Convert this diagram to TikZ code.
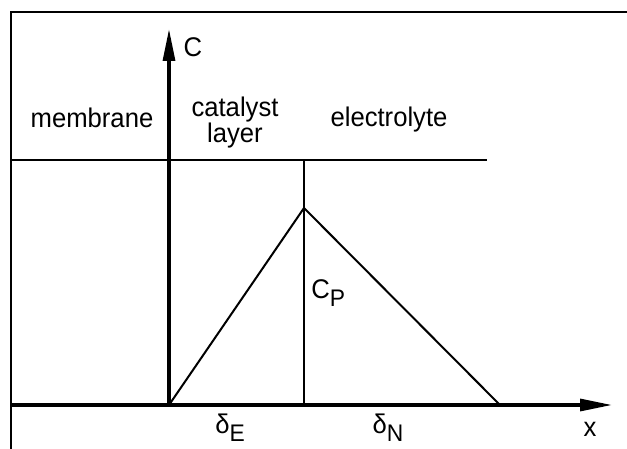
\documentclass[tikz,border=0pt]{standalone}
\usepackage{fontspec}
\setmainfont{Liberation Sans}
\usetikzlibrary{arrows.meta}
\newcommand{\lowsub}[1]{\raisebox{-4pt}{\fontsize{12}{12}\selectfont #1}}
\tikzset{
  lbl/.style={font=\fontsize{13.5}{13}\selectfont, inner sep=1pt, xscale=0.95, align=center},
  frame/.style={line width=1.1pt},
  axis/.style={line width=1.6pt, -{Triangle[length=16pt, width=6pt]}},
  profile/.style={line width=1pt},
  thin/.style={line width=0.7pt}
}

\begin{document}
\begin{tikzpicture}[x=0.5pt, y=-0.5pt]
  \useasboundingbox (0,0) rectangle (627,449);
  % frame and region border
  \coordinate (fbl) at (11,449);
  \coordinate (ftl) at (11,12);
  \coordinate (ftr) at (627,12);
  \draw[frame] (fbl) -- (ftl) -- (ftr);
  \coordinate (bl) at (11,160);
  \coordinate (br) at (487,160);
  \draw[frame] (bl) -- (br);
  % axes
  \coordinate (O) at (169,405);
  \coordinate (xs) at (11,405);
  \coordinate (xe) at (612,405);
  \coordinate (ye) at (169,29);
  \draw[axis] (xs) -- (xe);
  \draw[axis] (O) -- (ye);
  % concentration profile
  \coordinate (peak) at (304,208);
  \coordinate (pt) at (304,160);
  \coordinate (pb) at (304,405);
  \coordinate (end) at (500,405);
  \draw[thin] (pt) -- (pb);
  \draw[profile] (O) -- (peak) -- (end);
  % labels
  \node[lbl, anchor=base] (cax) at (193,57) {C};
  \node[lbl, anchor=base] (mem) at (92,128) {membrane};
  \node[lbl] (cat) at (235,123) {catalyst\\layer};
  \node[lbl, anchor=base] (ele) at (389,127) {electrolyte};
  \node[lbl, anchor=base west] (cp) at (309,298) {C\lowsub{P}};
  \node[lbl, anchor=base] (dE) at (230,433) {δ\lowsub{E}};
  \node[lbl, anchor=base] (dN) at (388,433) {δ\lowsub{N}};
  \node[lbl, anchor=base] (xax) at (590,436) {x};
\end{tikzpicture}
\end{document}
